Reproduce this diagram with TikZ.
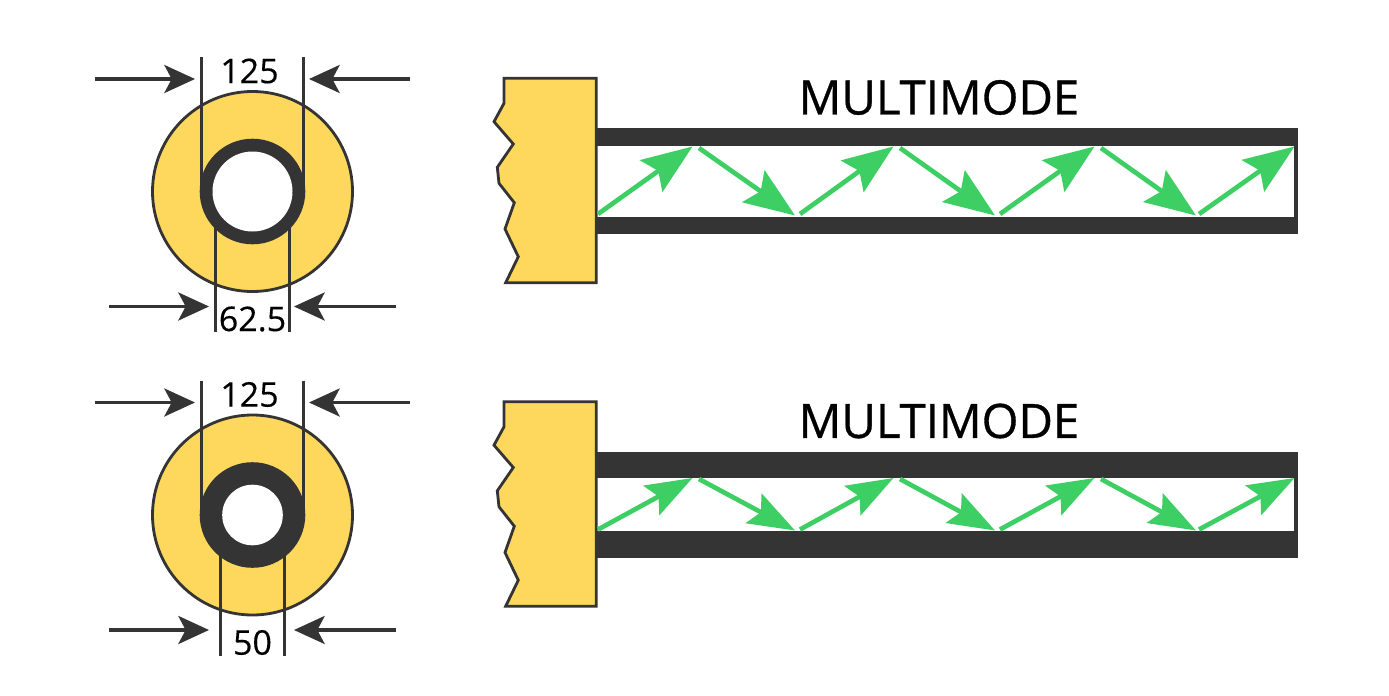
\documentclass[tikz,border=0pt]{standalone}
\usepackage{fontspec}
\setmainfont{Open Sans}
\newfontfamily\titlefont[FakeBold=0.7]{Open Sans}
\newfontfamily\labelfont[FakeBold=0.3]{Open Sans}
\usetikzlibrary{arrows.meta}
\definecolor{ink}{HTML}{343434}
\definecolor{gold}{HTML}{FDD85D}
\definecolor{ray}{HTML}{3DCF63}
\tikzset{
  x=0.75pt,y=-0.75pt,
  dimline/.style={draw=ink,line width=2.5pt},
  dimarrow/.style={draw=ink,line width=2.6pt,-{Stealth[length=23pt,width=21pt,inset=5.5pt]}},
  lab/.style={font=\labelfont\fontsize{25.5}{25.5}\selectfont,text=black,inner sep=0pt},
  title/.style={font=\titlefont\fontsize{35.5}{35.5}\selectfont,text=black,inner sep=0pt},
  cladding/.style={draw=ink,fill=gold,line width=2.1pt},
  barfill/.style={fill=ink,draw=none},
  ray1/.style={draw=ray,line width=3.5pt,-{Stealth[length=38pt,width=29pt,inset=6.5pt]}},
  ray2/.style={draw=ray,line width=3.5pt,-{Stealth[length=35pt,width=25pt,inset=6pt]}},
}
% #1 y offset, #2 hole radius, #3 half-gap of core lines, #4 core label, #5 and #6 inner edges of the bars
\newcommand{\fibrerow}[6]{%
\begin{scope}[yshift=-0.75*#1 pt]
  \node[cladding,circle,minimum size=150pt,inner sep=0pt] (clad) at (252.5,191.5) {};
  \coordinate (tl) at (201.6,57); \coordinate (tlb) at (201.6,192);
  \coordinate (tr) at (303.4,57); \coordinate (trb) at (303.4,192);
  \coordinate (bl) at ({252.5-#3},332); \coordinate (blt) at ({252.5-#3},225);
  \coordinate (br) at ({252.5+#3},332); \coordinate (brt) at ({252.5+#3},225);
  \draw[dimline] (tl) -- (tlb);
  \draw[dimline] (tr) -- (trb);
  \draw[dimline] (bl) -- (blt);
  \draw[dimline] (br) -- (brt);
  \node[circle,fill=ink,minimum size=79.2pt,inner sep=0pt] (ring) at (252.5,191.5) {};
  \node[circle,fill=white,minimum size={1.5pt*#2},inner sep=0pt] (hole) at (252.5,191.5) {};
  \coordinate (a1) at (95,79);  \coordinate (a1t) at (195,79);
  \coordinate (a2) at (410,79); \coordinate (a2t) at (309,79);
  \coordinate (a3) at (109,306.5); \coordinate (a3t) at (209,306.5);
  \coordinate (a4) at (396,306.5); \coordinate (a4t) at (294,306.5);
  \draw[dimarrow] (a1) -- (a1t);
  \draw[dimarrow] (a2) -- (a2t);
  \draw[dimarrow] (a3) -- (a3t);
  \draw[dimarrow] (a4) -- (a4t);
  \node[lab] (outerlab) at (249.5,71) {125};
  \node[lab] (corelab) at (252.5,319) {#4};
  \path[barfill] (596,128.3) rectangle (1298,234);
  \path[fill=white] (596,{#5}) rectangle (1294,{#6});
  \node[title] (head) at (939,97.5) {MULTIMODE};
  \draw[cladding,line join=miter] (504,78.3) -- (596.3,78.3) -- (596.3,282.7) -- (505.7,282.7) -- (518.3,256.7) -- (505,229) -- (514.3,202.7) -- (499,183.3) -- (497.3,167.3) -- (513.3,144) -- (494,121.7) -- (504,103.3) -- cycle;
\end{scope}}
\begin{document}
\begin{tikzpicture}
\useasboundingbox[fill=white] (0,0) rectangle (1389,696);
\fibrerow{0}{40}{37}{62.5}{145.7}{216.7}
\fibrerow{323.5}{30.3}{32}{50}{154.2}{207.5}
\foreach \n/\xa/\ya/\xb/\yb in {1/598/214/692.5/146.5,2/699/148/795/215.5,3/800/214/893.5/146.5,4/900/148/995/215.5,5/1000/214/1094.5/146.5,6/1101/148/1196/215.5,7/1199/214/1294.5/146.5}{
  \coordinate (p\n) at (\xa,\ya);
  \coordinate (q\n) at (\xb,\yb);
  \draw[ray1] (p\n) -- (q\n);
}
\foreach \n/\xa/\ya/\xb/\yb in {1/598/529.5/692.5/478,2/699/479/795/530.5,3/800/529.5/893.5/478,4/900/479/995/530.5,5/1000/529.5/1094.5/478,6/1101/479/1196/530.5,7/1199/529.5/1294.5/478}{
  \coordinate (r\n) at (\xa,\ya);
  \coordinate (s\n) at (\xb,\yb);
  \draw[ray2] (r\n) -- (s\n);
}
\end{tikzpicture}
\end{document}
